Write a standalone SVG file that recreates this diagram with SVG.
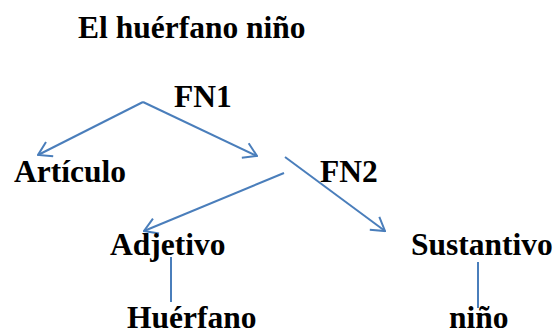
<svg xmlns="http://www.w3.org/2000/svg" width="560" height="335" viewBox="0 0 560 335">
<defs>
<style>
.t{font-family:"Liberation Serif","Times New Roman",serif;font-weight:bold;font-size:31.5px;fill:#000}
.c{stroke:#4A7EBB;stroke-width:2;fill:none}
</style>
<marker id="ah" viewBox="0 0 16 18" refX="15" refY="9" markerWidth="16" markerHeight="18" markerUnits="userSpaceOnUse" orient="auto">
<path d="M2,1 L15,9 L2,17" fill="none" stroke="#4A7EBB" stroke-width="2"/>
</marker>
</defs>
<rect width="560" height="335" fill="#fff"/>
<g id="connectors">
<line class="c" x1="143" y1="102" x2="38" y2="155" marker-end="url(#ah)"/>
<line class="c" x1="143" y1="102" x2="257" y2="156" marker-end="url(#ah)"/>
<line class="c" x1="284" y1="173" x2="144" y2="231" marker-end="url(#ah)"/>
<line class="c" x1="285" y1="157" x2="385" y2="231" marker-end="url(#ah)"/>
<line class="c" x1="171" y1="257" x2="171" y2="302"/>
<line class="c" x1="478" y1="262" x2="478" y2="308"/>
</g>
<g id="title"><text class="t" x="78" y="38">El huérfano niño</text></g>
<g id="fn1"><text class="t" x="174" y="107">FN1</text></g>
<g id="articulo"><text class="t" x="14" y="182">Artículo</text></g>
<g id="fn2"><text class="t" x="320" y="182">FN2</text></g>
<g id="adjetivo"><text class="t" x="110" y="255">Adjetivo</text></g>
<g id="sustantivo"><text class="t" x="411" y="255">Sustantivo</text></g>
<g id="huerfano"><text class="t" x="127" y="328">Huérfano</text></g>
<g id="nino"><text class="t" x="449" y="328">niño</text></g>
</svg>
